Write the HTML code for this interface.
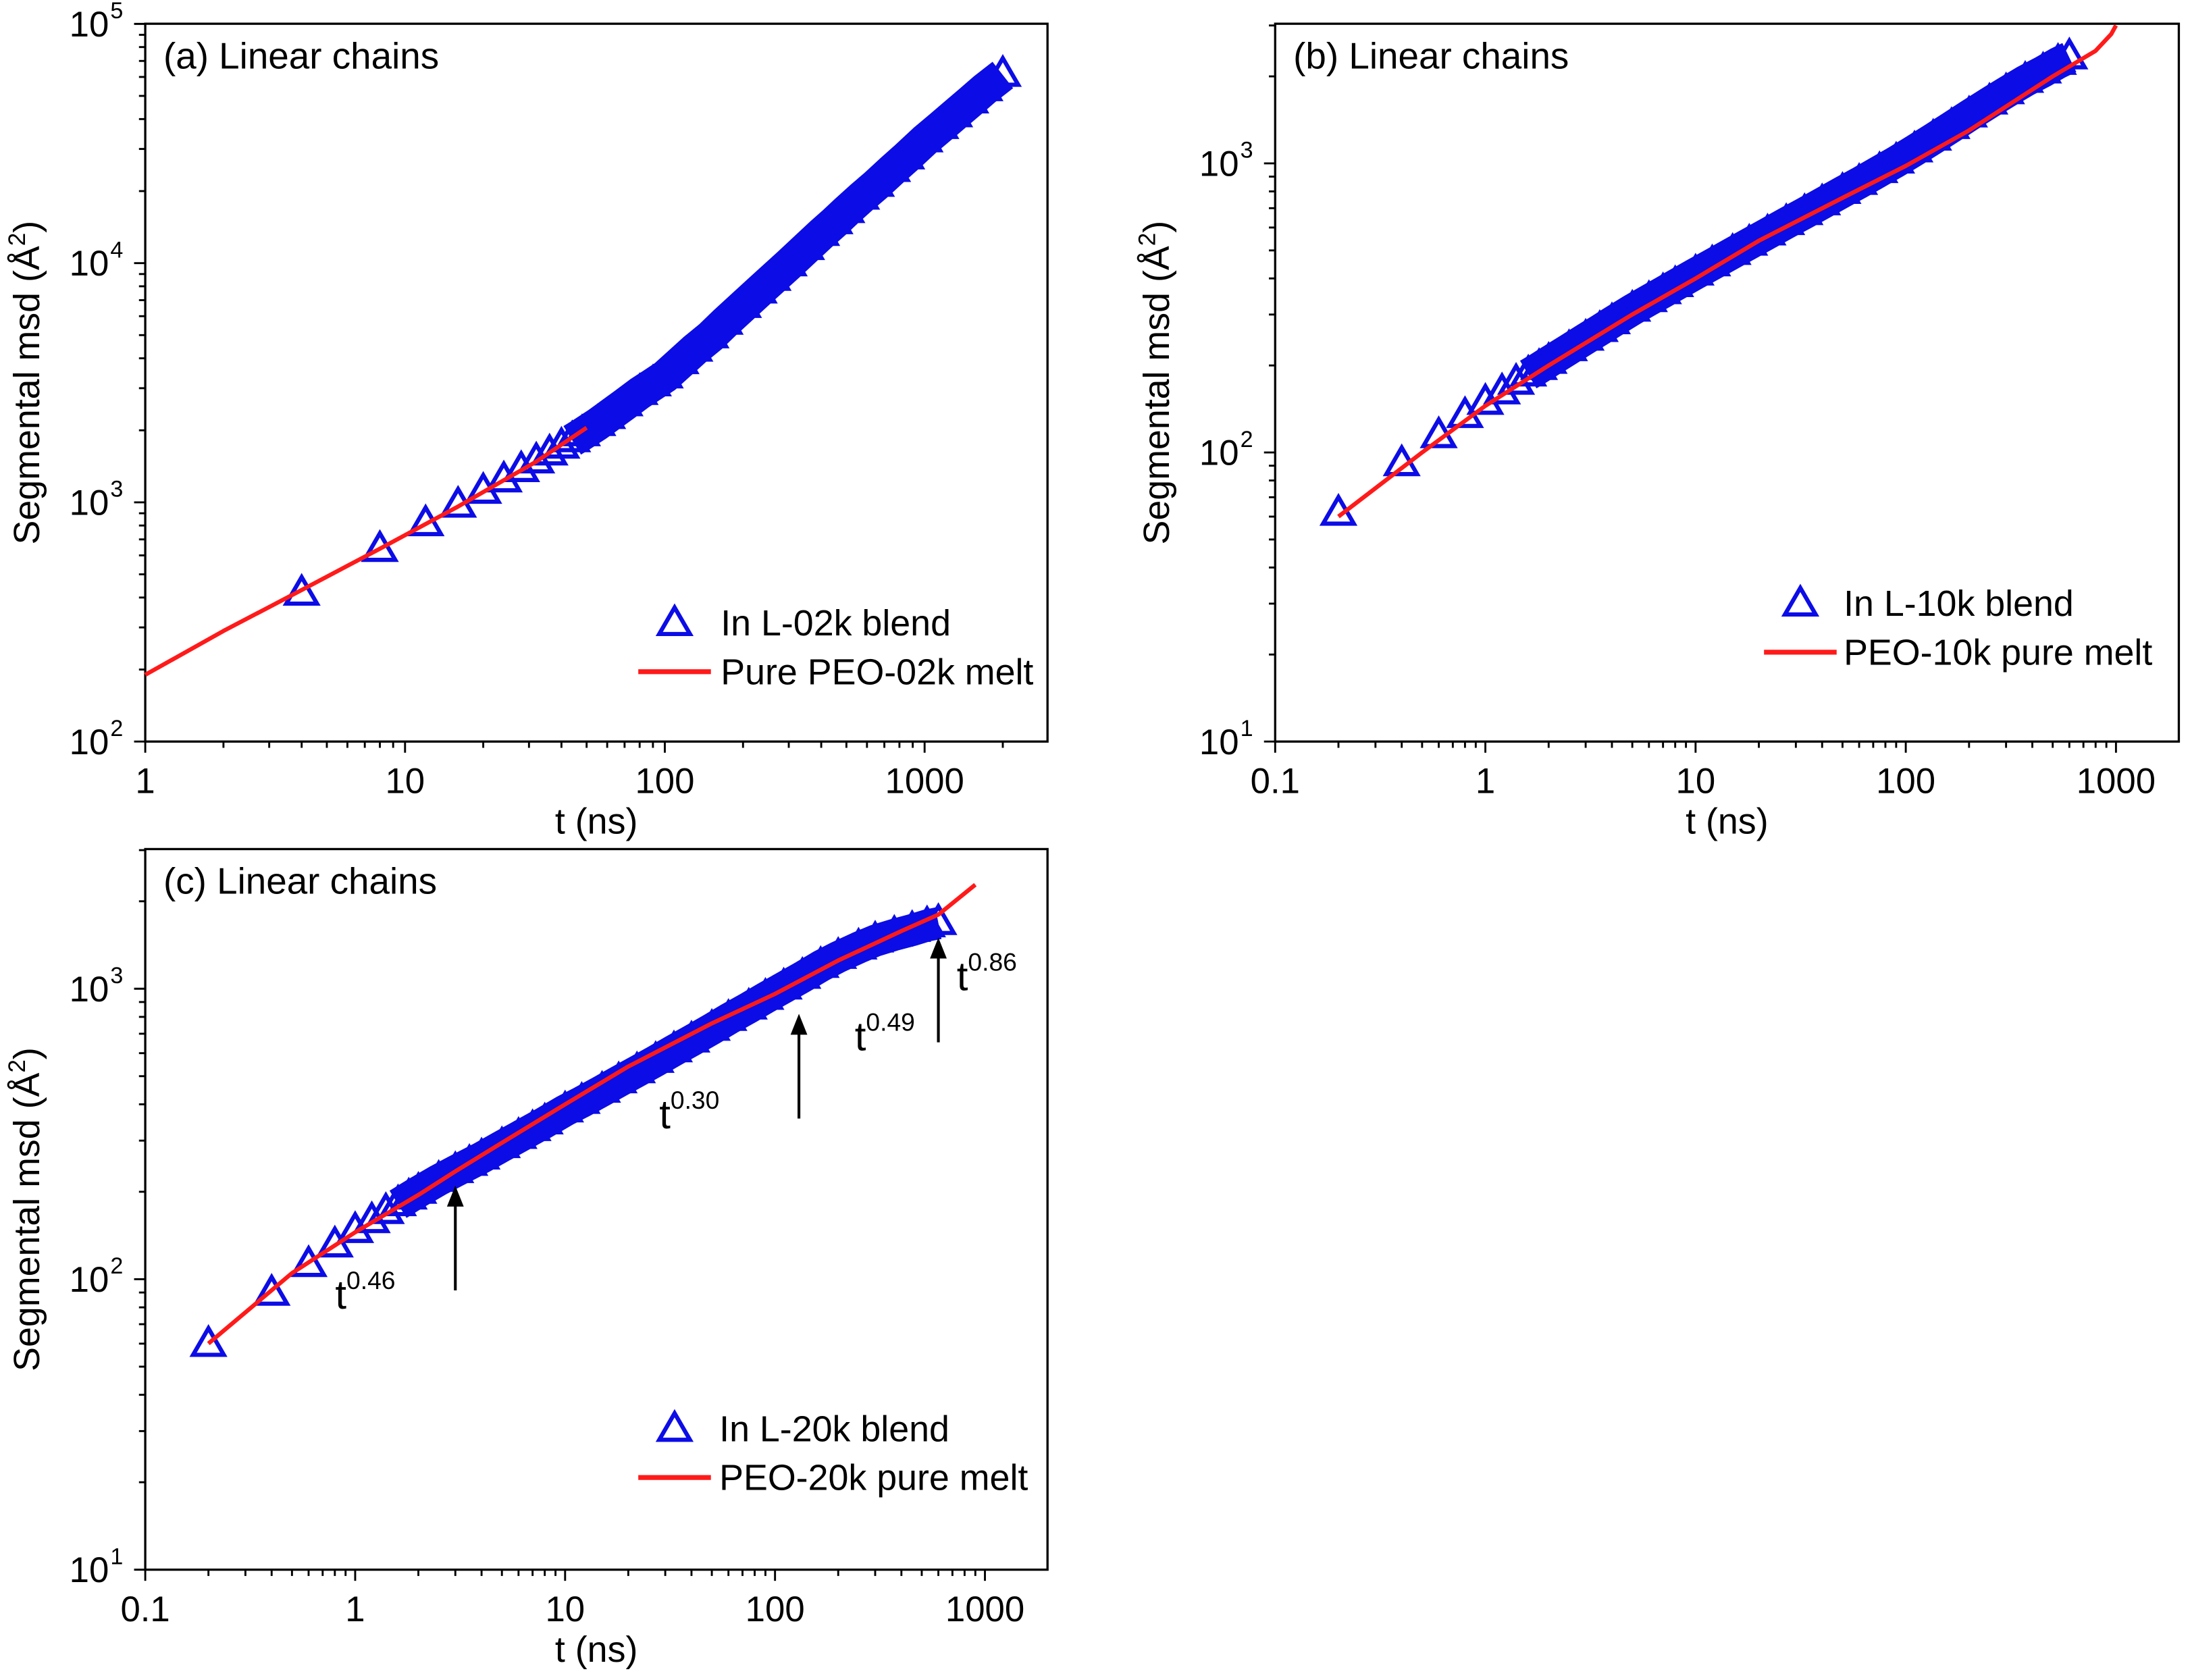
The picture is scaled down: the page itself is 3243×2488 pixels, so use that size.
<!DOCTYPE html>
<html><head><meta charset="utf-8"><style>
html,body{margin:0;padding:0;background:#fff;}
svg{display:block;font-family:"Liberation Sans",Arial,sans-serif;}
</style></head><body>
<svg id="chart" width="3243" height="2488" viewBox="0 0 1568 1203" preserveAspectRatio="none" xmlns="http://www.w3.org/2000/svg">
<rect x="0" y="0" width="1568" height="1203" fill="#fff"/>
</svg>
<script>
// ---- Panel (a) data ----
const aBlendT = [4,8,12,16,20,24,28,32,36,40,44,48,55,60,70,80,90,100,115,130,150,170,200,230,260,300,350,400,450,500,570,650,750,850,1000,1150,1300,1500,1700,2000];
const aBlendMsd = [420,640,820,980,1120,1250,1380,1500,1620,1730,1840,1950,2150,2300,2600,2900,3150,3400,3900,4400,5000,5700,6700,7700,8700,10000,11700,13400,15000,16700,19000,21500,24800,28000,33000,37500,42000,48000,54000,62000];
const aPureT = [1,2,4,8,16,32,50];
const aPureMsd = [190,290,430,640,960,1480,2050];
const aXTicks = ["1","10","100","1000"];
const aYTicks = ["2","3","4","5"];
// ---- Panel (b) data ----
const bBlendT = [0.2,0.4,0.6,0.8,1,1.2,1.4,1.6,1.8,2,2.5,3,3.5,4,5,6,7,8,10,12,15,18,22,27,33,40,50,60,75,90,110,135,165,200,250,300,370,450,530,600];
const bBlendMsd = [62,92,115,135,150,163,176,188,198,208,230,250,268,285,315,340,362,383,420,452,495,533,578,628,680,735,805,865,950,1025,1120,1230,1350,1480,1640,1780,1950,2100,2250,2350];
const bPureT = [0.2,0.5,1,2,5,10,20,50,100,200,500,800,950,1000];
const bPureMsd = [60,100,145,200,300,400,540,760,980,1300,2000,2450,2800,3000];
const bXTicks = ["0.1","1","10","100","1000"];
const bYTicks = ["1","2","3"];
// ---- Panel (c) data ----
const cBlendT = [0.2,0.4,0.6,0.8,1,1.2,1.4,1.6,1.8,2,2.5,3,3.5,4,5,6,7,8,10,12,15,18,22,27,33,40,50,60,75,90,110,135,165,200,250,300,370,450,530,600];
const cBlendMsd = [60,90,113,132,148,160,172,183,193,202,222,238,252,265,290,312,332,350,385,412,450,485,525,570,620,670,735,795,870,940,1020,1110,1210,1300,1400,1480,1550,1610,1670,1700];
const cPureT = [0.2,0.5,1,2,3,5,10,20,50,100,200,400,600,900];
const cPureMsd = [60,105,145,195,235,295,400,540,760,960,1250,1580,1800,2280];
const cXTicks = ["0.1","1","10","100","1000"];
const cYTicks = ["1","2","3"];
const cArrowT = [3,130,600];
const cArrowMsd = [210,820,1500];

const NS="http://www.w3.org/2000/svg";
const svg=document.getElementById('chart');
const BLUE='#0c0ce6';
function mk(tag,attrs,parent){const e=document.createElementNS(NS,tag);for(const k in attrs)e.setAttribute(k,attrs[k]);(parent||svg).appendChild(e);return e;}

function panel(p){
  const g=mk('g',{});
  
  
  const xs=v=>p.L+(Math.log10(v)-p.x0)*p.xd;
  const ys=v=>p.B-(Math.log10(v)-p.y0)*p.yd;
  const fr=mk('rect',{x:p.L,y:p.T,width:p.R-p.L,height:p.B-p.T,fill:'none',stroke:'#000','stroke-width':1.6},g);
  
  
  const xmax=p.x0+(p.R-p.L)/p.xd;
  for(let d=Math.floor(p.x0);d<=Math.ceil(xmax);d++){
    for(let m=1;m<10;m++){
      const lv=d+Math.log10(m); if(lv<p.x0-1e-6||lv>xmax+1e-6)continue;
      const x=p.L+(lv-p.x0)*p.xd;
      mk('line',{x1:x,x2:x,y1:p.B,y2:p.B+(m==1?8:4.5),stroke:'#000','stroke-width':1.4},g);
    }
  }
  p.xTicks.forEach((lab,i)=>{
    const x=xs(parseFloat(lab));
    const t=mk('text',{x:x,y:p.B+37,'font-size':25.5,'text-anchor':'middle'},g);
    t.textContent=lab;
    
    
  });
  const ymax=p.y0+(p.B-p.T)/p.yd;
  for(let d=Math.floor(p.y0);d<=Math.ceil(ymax);d++){
    for(let m=1;m<10;m++){
      const lv=d+Math.log10(m); if(lv<p.y0-1e-6||lv>ymax+1e-6)continue;
      const y=p.B-(lv-p.y0)*p.yd;
      mk('line',{x1:p.L,x2:p.L-(m==1?8:4.5),y1:y,y2:y,stroke:'#000','stroke-width':1.4},g);
    }
  }
  p.yTicks.forEach(e=>{
    const y=p.B-(parseFloat(e)-p.y0)*p.yd;
    const t=mk('text',{x:p.L-26,y:y+9,'font-size':25.5,'text-anchor':'end'},g);
    t.textContent='10';
    
    
    const s=mk('text',{x:p.L-25,y:y-4,'font-size':16.5,'text-anchor':'start'},g);
    s.textContent=e;
  });
  const xt=mk('text',{x:(p.L+p.R)/2,y:p.B+66,'font-size':26,'text-anchor':'middle'},g);
  xt.textContent='t (ns)';
  
  
  const cy=(p.T+p.B)/2, cx=p.L-76;
  const yt=mk('text',{x:cx,y:cy,'font-size':26,'text-anchor':'middle',transform:`rotate(-90 ${cx} ${cy})`},g);
  yt.innerHTML='Segmental msd (Å<tspan font-size="17" dy="-10">2</tspan><tspan dy="10">)</tspan>';
  
  
  const tt=mk('text',{x:p.L+13,y:p.T+32,'font-size':26.5},g);
  tt.textContent=p.title;
  
  
  const mg=mk('g',{},g);
  
  
  const bandPts=[];
  p.bt.forEach((t,i)=>{ if(t>=p.bandStart) bandPts.push(xs(t).toFixed(1)+','+(ys(p.bm[i])+1).toFixed(1)); });
  const band=mk('polyline',{points:bandPts.join(' '),fill:'none',stroke:BLUE,'stroke-width':p.bandW,'stroke-linejoin':'round','stroke-linecap':'butt'},mg);
  
  
  const tri=(x,y)=>`M${x-11},${y+8} L${x},${y-11} L${x+11},${y+8} Z`;
  p.bt.forEach((t,i)=>{
    const m=mk('path',{d:tri(xs(t),ys(p.bm[i])),fill:'none',stroke:BLUE,'stroke-width':3},mg);
    
    
  });
  const pts=p.pt.map((t,i)=>xs(t).toFixed(1)+','+ys(p.pm[i]).toFixed(1)).join(' ');
  const pl=mk('polyline',{points:pts,fill:'none',stroke:'#ff1a1a','stroke-width':3,'stroke-linejoin':'round'},g);
  
  
  const lg=mk('g',{},g);
  
  
  mk('path',{d:tri(p.lgx,p.lgy),fill:'none',stroke:BLUE,'stroke-width':3},lg);
  const l1=mk('text',{x:p.lgtx,y:p.lgy+9,'font-size':26},lg);
  l1.textContent=p.leg1;
  
  
  mk('line',{x1:p.lgx-26,x2:p.lgx+26,y1:p.lgy+35,y2:p.lgy+35,stroke:'#ff1a1a','stroke-width':3.5},lg);
  const l2=mk('text',{x:p.lgtx,y:p.lgy+44,'font-size':26},lg);
  l2.textContent=p.leg2;
  
  
  return {g,xs,ys};
}

panel({id:'a',L:104,R:750,T:17,B:531,x0:0,xd:186,y0:2,yd:171.3,xTicks:aXTicks,yTicks:aYTicks,
  title:'(a) Linear chains',bt:aBlendT,bm:aBlendMsd,pt:aPureT,pm:aPureMsd,bandStart:44,bandW:24,
  lgx:483,lgy:446,lgtx:516,leg1:'In L-02k blend',leg2:'Pure PEO-02k melt'});
panel({id:'b',L:913,R:1560,T:17,B:531,x0:-1,xd:150.5,y0:1,yd:207,xTicks:bXTicks,yTicks:bYTicks,
  title:'(b) Linear chains',bt:bBlendT,bm:bBlendMsd,pt:bPureT,pm:bPureMsd,bandStart:1.6,bandW:23,
  lgx:1289,lgy:432,lgtx:1320,leg1:'In L-10k blend',leg2:'PEO-10k pure melt'});
const pc=panel({id:'c',L:104,R:750,T:608,B:1124,x0:-1,xd:150.3,y0:1,yd:208,xTicks:cXTicks,yTicks:cYTicks,
  title:'(c) Linear chains',bt:cBlendT,bm:cBlendMsd,pt:cPureT,pm:cPureMsd,bandStart:1.6,bandW:23,
  lgx:483,lgy:1023,lgtx:515,leg1:'In L-20k blend',leg2:'PEO-20k pure melt'});

cArrowT.forEach((t,i)=>{
  const x=pc.xs(t), y=pc.ys(cArrowMsd[i]);
  const a=mk('g',{});
  
  
  mk('line',{x1:x,x2:x,y1:y+75,y2:y+12,stroke:'#000','stroke-width':2},a);
  mk('path',{d:`M${x-6},${y+15} L${x},${y} L${x+6},${y+15} Z`,fill:'#000'},a);
});
const expLabels=[["0.46",240,937],["0.30",472,808],["0.49",612,752],["0.86",685,709]];
expLabels.forEach(e=>{
  const t=mk('text',{x:e[1],y:e[2],'font-size':29});
  t.innerHTML='t<tspan font-size="18" dy="-14">'+e[0]+'</tspan>';
  
  
});
</script>
</body></html>
